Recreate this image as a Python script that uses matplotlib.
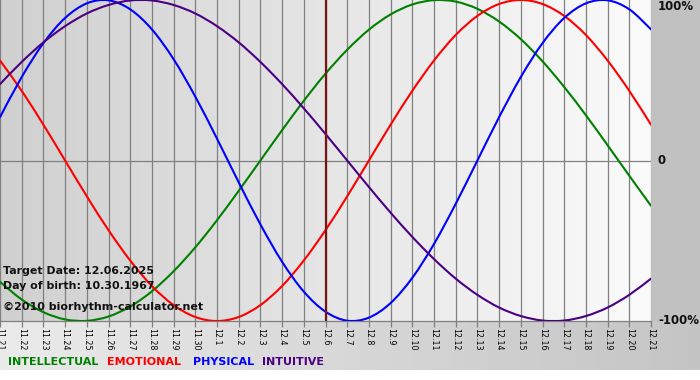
import numpy as np
import matplotlib
matplotlib.use("Agg")
import matplotlib.pyplot as plt
from matplotlib.path import Path
from matplotlib.patches import PathPatch

# ---- data ----
days = ['11.21', '11.22', '11.23', '11.24', '11.25', '11.26', '11.27', '11.28', '11.29', '11.30',
        '12.1', '12.2', '12.3', '12.4', '12.5', '12.6', '12.7', '12.8', '12.9', '12.10',
        '12.11', '12.12', '12.13', '12.14', '12.15', '12.16', '12.17', '12.18', '12.19', '12.20', '12.21']
physical = [0.270, 0.520, 0.731, 0.888, 0.979, 0.998, 0.942, 0.817, 0.631, 0.398, 0.136,
            -0.136, -0.398, -0.631, -0.817, -0.942, -0.998, -0.979, -0.888, -0.731, -0.520,
            -0.270, 0.000, 0.270, 0.520, 0.731, 0.888, 0.979, 0.998, 0.942, 0.817]
emotional = [0.623, 0.434, 0.223, 0.000, -0.223, -0.434, -0.623, -0.782, -0.901, -0.975,
             -1.000, -0.975, -0.901, -0.782, -0.623, -0.434, -0.223, 0.000, 0.223, 0.434,
             0.623, 0.782, 0.901, 0.975, 1.000, 0.975, 0.901, 0.782, 0.623, 0.434, 0.223]
intellectual = [-0.756, -0.866, -0.945, -0.990, -0.999, -0.972, -0.910, -0.815, -0.690, -0.541,
                -0.372, -0.189, 0.000, 0.189, 0.372, 0.541, 0.690, 0.815, 0.910, 0.972,
                0.999, 0.990, 0.945, 0.866, 0.756, 0.618, 0.458, 0.282, 0.095, -0.095, -0.282]
intuitive = [0.476, 0.614, 0.736, 0.837, 0.916, 0.969, 0.997, 0.997, 0.969, 0.916, 0.837,
             0.736, 0.614, 0.476, 0.325, 0.165, 0.000, -0.165, -0.325, -0.476, -0.614,
             -0.736, -0.837, -0.916, -0.969, -0.997, -0.997, -0.969, -0.916, -0.837, -0.736]
target_index = 15
y_labels = ['100%', '0', '-100%']
y_label_values = [1, 0, -1]
legend_names = ['INTELLECTUAL', 'EMOTIONAL', 'PHYSICAL', 'INTUITIVE']

colors = {'INTELLECTUAL': '#008000', 'EMOTIONAL': '#ff0000',
          'PHYSICAL': '#0000ff', 'INTUITIVE': '#4b0082'}

W, H = 700, 380
fig = plt.figure(figsize=(W / 100, H / 100), dpi=100)

# ---- background ----
bg = np.ones((H, W, 3))
plot_r, plot_b = 651, 321
xs = np.linspace(0, 1, plot_r)
grad = 0.815 + (0.985 - 0.815) * xs
bg[:plot_b, :plot_r, :] = grad[None, :, None]
bg[:plot_b, plot_r:, :] = 0.76
xs2 = np.linspace(0, 1, W)
grad2 = 0.92 - (0.92 - 0.77) * xs2
bg[plot_b:370, :, :] = grad2[None, :, None]
bg[370:, :, :] = 1.0
bgax = fig.add_axes([0, 0, 1, 1])
bgax.imshow(bg, aspect='auto', extent=[0, W, H, 0], interpolation='bilinear')
bgax.set_axis_off()

# ---- main axes ----
ax = fig.add_axes([0, 1 - plot_b / H, plot_r / W, plot_b / H])
ax.set_facecolor('none')
x = np.arange(len(days))
ax.set_xlim(0, len(days) - 1)
ax.set_ylim(-1, 1)

for xi in x:
    ax.axvline(xi, color='#808080', lw=0.9, zorder=1)
ax.axhline(0, color='#808080', lw=0.9, zorder=1)


def smooth_line(ax, xv, yv, color):
    """Draw a smooth curve through the points as a cubic Bezier path."""
    xv = np.asarray(xv, float)
    yv = np.asarray(yv, float)
    n = len(xv)
    verts = [(xv[0], yv[0])]
    codes = [Path.MOVETO]
    for i in range(n - 1):
        p0 = np.array([xv[max(i - 1, 0)], yv[max(i - 1, 0)]])
        p1 = np.array([xv[i], yv[i]])
        p2 = np.array([xv[i + 1], yv[i + 1]])
        p3 = np.array([xv[min(i + 2, n - 1)], yv[min(i + 2, n - 1)]])
        c1 = p1 + (p2 - p0) / 6.0
        c2 = p2 - (p3 - p1) / 6.0
        verts += [tuple(c1), tuple(c2), tuple(p2)]
        codes += [Path.CURVE4] * 3
    patch = PathPatch(Path(verts, codes), facecolor='none', edgecolor=color,
                      lw=1.5, zorder=3, capstyle='round', joinstyle='round')
    ax.add_patch(patch)


smooth_line(ax, x, intellectual, colors['INTELLECTUAL'])
smooth_line(ax, x, emotional, colors['EMOTIONAL'])
smooth_line(ax, x, physical, colors['PHYSICAL'])
smooth_line(ax, x, intuitive, colors['INTUITIVE'])
ax.axvline(target_index, color='#7a1414', lw=1.6, zorder=4)

for s in ['top', 'right', 'left']:
    ax.spines[s].set_visible(False)
ax.spines['bottom'].set_color('#808080')
ax.spines['bottom'].set_linewidth(0.9)
ax.set_xticks(x)
ax.set_xticklabels(days, rotation=-90, fontsize=5.7, color='#000000')
ax.tick_params(axis='x', length=4, width=0.9, color='#808080', pad=1)
ax.set_yticks([])

# y labels in right margin
for lab, v in zip(y_labels, y_label_values):
    yp = 1 - ((1 - v) / 2 * plot_b) / H
    if v == 1:
        yp = 1 - 7 / H
    fig.text(658 / W, yp, lab, fontsize=8.5, fontweight='bold', ha='left', va='center',
             color='#111111')

# info text
fig.text(3 / W, 1 - 271 / H, 'Target Date: 12.06.2025', fontsize=7.9, fontweight='bold',
         ha='left', va='center', color='#111111')
fig.text(3 / W, 1 - 286 / H, 'Day of birth: 10.30.1967', fontsize=7.9, fontweight='bold',
         ha='left', va='center', color='#111111')
fig.text(3 / W, 1 - 307 / H, '\u00a92010 biorhythm-calculator.net', fontsize=8.0,
         fontweight='bold', ha='left', va='center', color='#111111')

# legend
leg_x = [8, 107, 193, 262]
for name, lx in zip(legend_names, leg_x):
    fig.text(lx / W, 1 - 362 / H, name, fontsize=8.0, fontweight='bold', ha='left',
             va='center', color=colors[name])

fig.savefig('out.png', dpi=100)
